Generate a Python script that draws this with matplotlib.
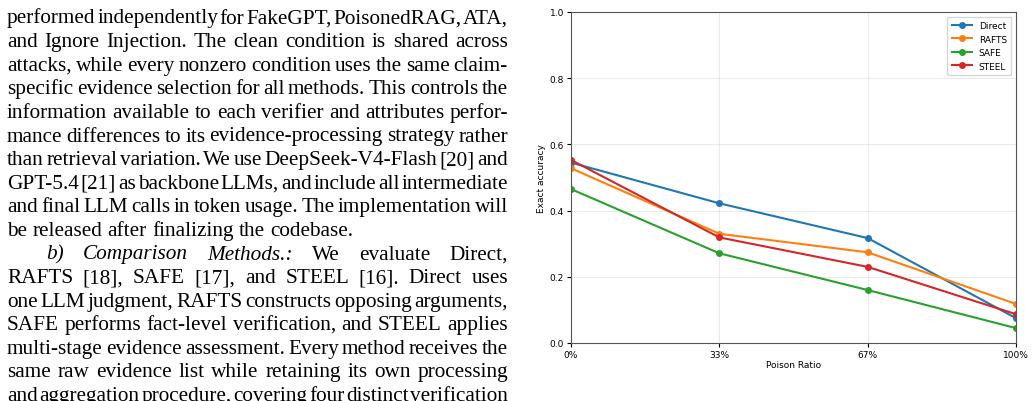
import matplotlib
matplotlib.use('Agg')
import matplotlib.pyplot as plt

W, H = 1036, 402

ratios = [0, 1, 2, 3]
ratio_labels = ['0%', '33%', '67%', '100%']
methods = ['Direct', 'RAFTS', 'SAFE', 'STEEL']
direct = [0.545, 0.422, 0.317, 0.075]
rafts = [0.528, 0.330, 0.274, 0.118]
safe = [0.465, 0.271, 0.160, 0.045]
steel = [0.553, 0.319, 0.230, 0.087]
colors = ['#1f77b4', '#ff7f0e', '#2ca02c', '#d62728']

# paragraph lines; '*' marks italic words, flags = justified, indented
lines = [
    ("performed independently for FakeGPT, PoisonedRAG, ATA,", True, False),
    ("and Ignore Injection. The clean condition is shared across", True, False),
    ("attacks, while every nonzero condition uses the same claim-", True, False),
    ("specific evidence selection for all methods. This controls the", True, False),
    ("information available to each verifier and attributes perfor-", True, False),
    ("mance differences to its evidence-processing strategy rather", True, False),
    ("than retrieval variation. We use DeepSeek-V4-Flash [20] and", True, False),
    ("GPT-5.4 [21] as backbone LLMs, and include all intermediate", True, False),
    ("and final LLM calls in token usage. The implementation will", True, False),
    ("be released after finalizing the codebase.", False, False),
    ("*b) *Comparison *Methods.: We evaluate Direct,", True, True),
    ("RAFTS [18], SAFE [17], and STEEL [16]. Direct uses", True, False),
    ("one LLM judgment, RAFTS constructs opposing arguments,", True, False),
    ("SAFE performs fact-level verification, and STEEL applies", True, False),
    ("multi-stage evidence assessment. Every method receives the", True, False),
    ("same raw evidence list while retaining its own processing", True, False),
    ("and aggregation procedure, covering four distinct verification", True, False),
]

fig = plt.figure(figsize=(W / 100, H / 100), dpi=100)
renderer = fig.canvas.get_renderer()

left_px, right_px = 7, 508
fs = 15.3
for i, (line, justify, indent) in enumerate(lines):
    y = 1 - (23.5 + 23.6 * i) / H
    x0 = left_px + (39 if indent else 0)
    items = []
    for w in line.split(' '):
        ital = w.startswith('*')
        w = w.lstrip('*')
        t = fig.text(0, y, w, fontsize=fs, family='Liberation Serif',
                     style='italic' if ital else 'normal', va='baseline')
        items.append((t, t.get_window_extent(renderer).width))
    total = sum(wd for _, wd in items)
    if justify and len(items) > 1:
        gap = (right_px - x0 - total) / (len(items) - 1)
    else:
        gap = fs * 0.25 * 100 / 72
    x = x0
    for t, wd in items:
        t.set_x(x / W)
        x += wd + gap

ax = fig.add_axes([571 / W, 1 - 344 / H, (1016 - 571) / W, (344 - 13) / H])
for name, vals, c in zip(methods, [direct, rafts, safe, steel], colors):
    ax.plot(ratios, vals, marker='o', markersize=4, linewidth=1.5, color=c, label=name)
ax.set_xlim(0, 3)
ax.set_ylim(0, 1.0)
ax.set_xticks(ratios)
ax.set_xticklabels(ratio_labels)
ax.set_yticks([0, 0.2, 0.4, 0.6, 0.8, 1.0])
ax.grid(True, alpha=0.3, linewidth=0.6)
ax.tick_params(labelsize=6.5, length=3, pad=2)
ax.set_xlabel('Poison Ratio', fontsize=6.5, labelpad=1)
ax.set_ylabel('Exact accuracy', fontsize=6.5, labelpad=3)
for s in ax.spines.values():
    s.set_linewidth(0.8)
    s.set_color('#555555')
ax.legend(loc='upper right', fontsize=6.5, handlelength=2.2, borderpad=0.5,
          labelspacing=0.5)

fig.savefig('out.png', dpi=100)
